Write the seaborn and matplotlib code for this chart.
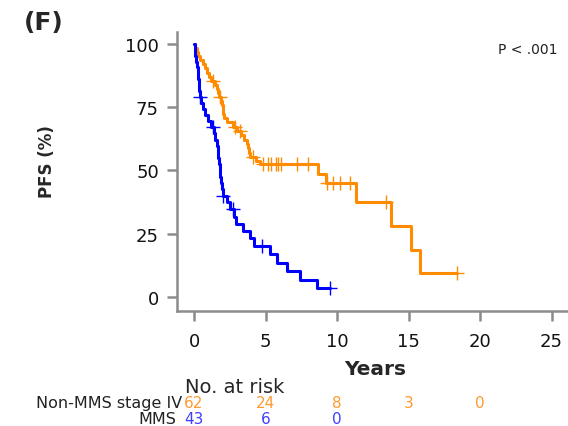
import numpy as np
import pandas as pd
import seaborn as sns
import matplotlib.pyplot as plt
from matplotlib.transforms import blended_transform_factory

# Kaplan-Meier steps (years, PFS %)
nonmms_time = [0, 0.1, 0.2, 0.3, 0.4, 0.6, 0.8, 0.9, 1.05, 1.2, 1.5, 1.6, 1.7, 1.75, 1.9, 1.95,
               2.0, 2.05, 2.1, 2.3, 2.7, 3.0, 3.3, 3.5, 3.7, 3.8, 3.85, 3.9, 4.3, 4.6, 8.7, 9.2,
               11.3, 13.8, 15.2, 15.8, 18.4]
nonmms_surv = [100, 98.4, 96.8, 95.2, 93.5, 91.9, 90.3, 88.7, 87.1, 85.5, 83.9, 82.2, 80.6, 79.0,
               77.3, 75.7, 74.0, 72.4, 70.7, 69.0, 67.3, 65.6, 63.9, 62.2, 60.5, 58.8, 57.1, 55.4,
               53.7, 52.6, 48.6, 45.0, 37.5, 28.1, 18.7, 9.4, 9.4]
nonmms_cens = [1.3, 1.85, 2.9, 3.2, 4.1, 4.8, 5.2, 5.4, 5.7, 5.9, 6.1, 7.2, 8.0,
               9.3, 9.7, 10.2, 10.9, 13.4, 18.4]

mms_time = [0, 0.05, 0.1, 0.15, 0.2, 0.25, 0.3, 0.33, 0.36, 0.39, 0.5, 0.6, 0.8, 1.0, 1.2,
            1.4, 1.5, 1.6, 1.65, 1.7, 1.75, 1.8, 1.85, 1.9, 1.95, 2.0, 2.3, 2.5, 2.8, 2.95,
            3.4, 3.9, 4.2, 5.3, 5.8, 6.5, 7.4, 8.6, 9.5]
mms_surv = [100, 97.7, 95.3, 93.0, 90.7, 88.4, 86.0, 83.7, 81.4, 79.1, 76.7, 74.3, 71.9, 69.5,
            67.1, 64.7, 62.2, 59.8, 57.3, 54.8, 52.4, 49.9, 47.4, 45.0, 42.5, 40.0, 37.5, 34.8,
            31.8, 29.0, 26.1, 23.2, 20.3, 17.0, 13.6, 10.2, 6.8, 3.4, 3.4]
mms_cens = [0.42, 1.3, 2.05, 2.7, 4.75, 9.5]

risk_time = [0, 5, 10, 15, 20]
risk_nonmms = [62, 24, 8, 3, 0]
risk_mms = [43, 6, 0]

ORANGE = "#FF8C00"
BLUE = "#0000FF"
GREY = "#8C8C8C"


def surv_at(times, surv, t):
    i = np.searchsorted(times, t, side="right") - 1
    return surv[i]


sns.set_style("white")
plt.rcParams["font.family"] = ["DejaVu Sans"]

W, H = 568, 427
fig = plt.figure(figsize=(W / 100, H / 100), dpi=100)
ax = fig.add_axes([177 / W, 1 - 312 / H, 391 / W, 279 / H])


def fx(px):
    return px / W


def fy(py):
    return 1 - py / H


curves = [
    (nonmms_time, nonmms_surv, nonmms_cens, ORANGE),
    (mms_time, mms_surv, mms_cens, BLUE),
]
for t, s, c, col in curves:
    df = pd.DataFrame({"t": t, "s": s})
    sns.lineplot(data=df, x="t", y="s", drawstyle="steps-post", estimator=None,
                 color=col, linewidth=2.2, ax=ax)
    cens = pd.DataFrame({"t": c, "s": [surv_at(t, s, x) for x in c]})
    sns.scatterplot(data=cens, x="t", y="s", marker="+", s=100, color=col,
                    linewidth=1.0, ax=ax, zorder=3)

ax.set_xlim(-1.19, 26.15)
ax.set_ylim(-5.5, 104.7)
ax.set_xticks([0, 5, 10, 15, 20, 25])
ax.set_yticks([0, 25, 50, 75, 100])
for side in ["top", "right"]:
    ax.spines[side].set_visible(False)
for side in ["left", "bottom"]:
    ax.spines[side].set_color(GREY)
    ax.spines[side].set_linewidth(1.8)
ax.tick_params(axis="both", bottom=True, left=True, direction="out", colors=GREY,
               width=1.8, length=7, labelcolor="#111111", labelsize=13)
ax.tick_params(axis="y", pad=6)
ax.tick_params(axis="x", pad=8)

ax.set_xlabel("Years", fontsize=14.5, fontweight="bold")
ax.xaxis.set_label_coords(fx(375), fy(370), transform=fig.transFigure)
ax.xaxis.label.set_va("center")
ax.set_ylabel("PFS (%)", fontsize=12, fontweight="bold")
ax.yaxis.set_label_coords(fx(47), fy(162), transform=fig.transFigure)
ax.yaxis.label.set_va("center")

fig.text(fx(557), fy(50), "P < .001", ha="right", va="center", fontsize=10,
         color="#222222")
fig.text(fx(24), fy(23), "(F)", ha="left", va="center", fontsize=18, fontweight="bold")

# number at risk table
fig.text(fx(185), fy(388), "No. at risk", ha="left", va="center", fontsize=14)
fig.text(fx(182), fy(404), "Non-MMS stage IV", ha="right", va="center", fontsize=11.5,
         color="#222222")
fig.text(fx(176), fy(420), "MMS", ha="right", va="center", fontsize=11.5, color="#222222")
tr = blended_transform_factory(ax.transData, fig.transFigure)
for x, n in zip(risk_time, risk_nonmms):
    ax.text(x, fy(404), str(n), transform=tr, ha="center", va="center", fontsize=11,
            color="#FF9A33", clip_on=False)
for x, n in zip(risk_time, risk_mms):
    ax.text(x, fy(420), str(n), transform=tr, ha="center", va="center", fontsize=11,
            color="#3F3FFF", clip_on=False)

fig.savefig("out.png", dpi=100)
